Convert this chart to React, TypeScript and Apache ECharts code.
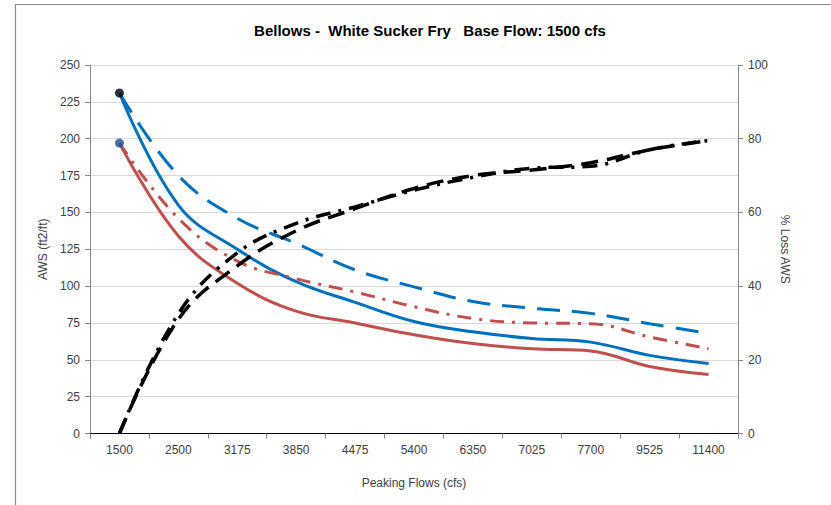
import React, { useEffect, useRef } from "react";
import * as echarts from "echarts";

const categories = ["1500", "2500", "3175", "3850", "4475", "5400", "6350", "7025", "7700", "9525", "11400"];
const blueSolid = [231, 155, 125, 103, 89, 76, 69, 64.5, 62, 53, 47.5];
const blueDashed = [231, 175, 146, 129, 111, 99.5, 89.5, 85, 81.5, 74.5, 68];
const redSolid = [197, 134, 102, 83, 75, 67, 61, 57.5, 56, 45.5, 40];
const redDashDot = [197, 146, 117, 105, 96, 86, 78, 75, 74.5, 65.5, 57.5];
const lossDashDot = [0, 32.5, 49, 57, 61.5, 66, 69.5, 72, 72.5, 77, 79.5];
const lossDashed = [0, 31, 45.5, 55, 61, 66.5, 70, 71.5, 73.5, 77, 79.5];

const FONT = "Arial, 'Liberation Sans', sans-serif";
const TXT = "#404040";
const AXIS = "#868686";

export default function App() {
  const ref = useRef<HTMLDivElement>(null);
  useEffect(() => {
    document.body.style.margin = "0";
    const chart = echarts.init(ref.current!, null, { renderer: "svg" });
    const lineSeries = (name: string, data: number[], color: string, width: number, dash: any, yAxisIndex: number, z: number) => ({
      name,
      type: "line",
      data,
      yAxisIndex,
      smooth: 0.4,
      symbol: "none",
      z,
      lineStyle: { color, width, type: dash, cap: "butt" },
    });
    chart.setOption({
      animation: false,
      backgroundColor: "#fff",
      textStyle: { fontFamily: FONT },
      title: {
        text: "Bellows -  White Sucker Fry   Base Flow: 1500 cfs",
        left: 425,
        textAlign: "center",
        top: 18,
        textStyle: { fontFamily: FONT, fontSize: 15, fontWeight: "bold", color: "#000" },
      },
      graphic: [
        {
          type: "rect",
          shape: { x: 15.5, y: 4.5, width: 840, height: 540 },
          style: { fill: "none", stroke: "#8c8c8c", lineWidth: 1.2 },
          silent: true,
        },
      ],
      grid: { left: 90, right: 93, top: 65, bottom: 71.5, containLabel: false },
      xAxis: [
        {
          type: "category",
          data: categories,
          boundaryGap: true,
          name: "Peaking Flows (cfs)",
          nameLocation: "middle",
          nameGap: 43,
          nameTextStyle: { fontFamily: FONT, fontSize: 12, color: TXT },
          axisLine: { lineStyle: { color: AXIS, width: 1 } },
          axisTick: { show: true, length: 5, lineStyle: { color: AXIS } },
          axisLabel: { fontFamily: FONT, fontSize: 12, color: TXT, margin: 10, interval: 0 },
          splitLine: { show: false },
        },
        {
          type: "category",
          data: categories,
          position: "top",
          boundaryGap: true,
          axisLine: { show: true, lineStyle: { color: "#000", width: 1 } },
          axisTick: { show: false },
          axisLabel: { show: false },
          splitLine: { show: false },
        },
      ],
      yAxis: [
        {
          type: "value",
          min: 0,
          max: 250,
          interval: 25,
          name: "AWS (ft2/ft)",
          nameLocation: "middle",
          nameGap: 36,
          nameTextStyle: { fontFamily: FONT, fontSize: 12, color: TXT },
          axisLine: { show: true, lineStyle: { color: AXIS, width: 1 } },
          axisTick: { show: true, length: 5, lineStyle: { color: AXIS } },
          axisLabel: { fontFamily: FONT, fontSize: 12, color: TXT, margin: 10 },
          splitLine: { show: true, lineStyle: { color: "#d9d9d9", width: 1 } },
        },
        {
          type: "value",
          min: 0,
          max: 100,
          interval: 20,
          position: "right",
          name: "% Loss AWS",
          nameLocation: "middle",
          nameGap: 36,
          nameRotate: -90,
          nameTextStyle: { fontFamily: FONT, fontSize: 12, color: TXT },
          axisLine: { show: true, lineStyle: { color: AXIS, width: 1 } },
          axisTick: { show: true, length: 5, lineStyle: { color: AXIS } },
          axisLabel: { fontFamily: FONT, fontSize: 12, color: TXT, margin: 10 },
          splitLine: { show: false },
        },
      ],
      series: [
        lineSeries("AWS solid blue", blueSolid, "#0070C0", 3, "solid", 0, 2),
        lineSeries("AWS dashed blue", blueDashed, "#0070C0", 3, [23, 12], 0, 2),
        lineSeries("AWS solid red", redSolid, "#C0504D", 3, "solid", 0, 2),
        lineSeries("AWS dash-dot red", redDashDot, "#C0504D", 3, [14, 8, 3, 8], 0, 2),
        lineSeries("% Loss dash-dot", lossDashDot, "#000", 3.5, [15, 8, 3, 8], 1, 3),
        lineSeries("% Loss dashed", lossDashed, "#000", 3.5, [17, 9], 1, 3),
        {
          type: "scatter",
          yAxisIndex: 0,
          symbol: "circle",
          symbolSize: 9,
          z: 5,
          itemStyle: { color: "#000" },
          data: [[categories[0], blueSolid[0]]],
        },
        {
          type: "scatter",
          yAxisIndex: 0,
          symbol: "circle",
          symbolSize: 9,
          z: 5,
          itemStyle: { color: "#254E8F" },
          data: [[categories[0], redSolid[0]]],
        },
      ],
    });
    return () => chart.dispose();
  }, []);
  return <div ref={ref} style={{ width: 831, height: 505 }} />;
}
